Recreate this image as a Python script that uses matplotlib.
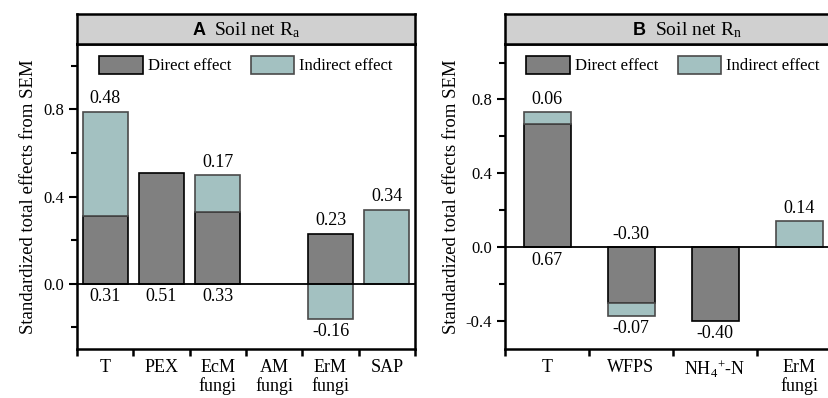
import matplotlib
matplotlib.use('Agg')
import matplotlib.pyplot as plt
from matplotlib.patches import Patch
from matplotlib.ticker import MultipleLocator, FixedLocator, NullFormatter

plt.rcParams['font.family'] = ['Liberation Serif', 'DejaVu Serif']
plt.rcParams['mathtext.fontset'] = 'custom'
plt.rcParams['mathtext.rm'] = 'Liberation Serif'
plt.rcParams['mathtext.it'] = 'Liberation Serif:italic'

# Panel A: soil net Ra
cats_a = ['T', 'PEX', 'EcM\nfungi', 'AM\nfungi', 'ErM\nfungi', 'SAP']
direct_a = [0.31, 0.51, 0.33, 0.0, 0.23, 0.0]
indirect_a = [0.48, 0.0, 0.17, 0.0, -0.16, 0.34]
# where the direct-effect number sits: at the zero line or at the bar end
direct_lab_a = ['base', 'base', 'base', None, 'end', None]

# Panel B: soil net Rn
cats_b = ['T', 'WFPS', r'NH$_4$$^{+}$-N', 'ErM\nfungi']
direct_b = [0.67, -0.30, -0.40, 0.0]
indirect_b = [0.06, -0.07, 0.0, 0.14]
direct_lab_b = ['base', 'base', 'end', None]

DIRECT_C = '#808080'
INDIRECT_C = '#a3c1c1'
HEADER_C = '#d0d0d0'


def label(ax, x, y, v, above, fs=13):
    off = 3 if above else -3
    ax.annotate('%.2f' % v, (x, y), xytext=(0, off), textcoords='offset points',
                ha='center', va='bottom' if above else 'top', fontsize=fs)


def panel(ax, hax, cats, direct, indirect, direct_lab, width, title, ylim, yticks, tcx):
    n = len(cats)
    xs = [i + 0.5 for i in range(n)]
    for x, d, ind, dl in zip(xs, direct, indirect, direct_lab):
        if d != 0:
            ax.bar(x, d, width, color=DIRECT_C, edgecolor='black', lw=1.2, zorder=2)
        base = d if (ind * d > 0) else 0
        if ind != 0:
            ax.bar(x, ind, width, bottom=base, color=INDIRECT_C,
                   edgecolor='#4a4a4a', lw=1.2, zorder=2)
            end = base + ind
            label(ax, x, end, ind, end > 0)
        if d != 0 and dl == 'base':
            label(ax, x, 0, d, d < 0)
        elif d != 0 and dl == 'end':
            label(ax, x, d, d, d > 0)
    ax.axhline(0, color='black', lw=1.3, zorder=3)
    ax.set_xlim(0, n)
    ax.set_ylim(*ylim)
    ax.xaxis.set_major_locator(FixedLocator(range(n + 1)))
    ax.xaxis.set_major_formatter(NullFormatter())
    ax.xaxis.set_minor_locator(FixedLocator(xs))
    ax.set_xticklabels(cats, minor=True, fontsize=13, linespacing=1.1)
    ax.tick_params(axis='x', which='major', direction='out', length=5, width=1.8)
    ax.tick_params(axis='x', which='minor', length=0, pad=7)
    ax.yaxis.set_minor_locator(MultipleLocator(0.2))
    ax.set_yticks(yticks)
    ax.set_yticklabels(['%.1f' % t for t in yticks])
    ax.tick_params(axis='y', which='major', direction='out', length=6, width=1.5, labelsize=12)
    ax.tick_params(axis='y', which='minor', direction='out', length=4, width=1.5)
    for s in ax.spines.values():
        s.set_linewidth(1.8)
    ax.set_ylabel('Standardized total effects from SEM', fontsize=13.5, labelpad=4)
    handles = [Patch(facecolor=DIRECT_C, edgecolor='black', lw=1.2, label='Direct effect'),
               Patch(facecolor=INDIRECT_C, edgecolor='#4a4a4a', lw=1.2, label='Indirect effect')]
    ax.legend(handles=handles, loc='upper center', ncol=2, frameon=False, fontsize=12,
              handlelength=2.6, handleheight=1.3, handletextpad=0.3, columnspacing=1.2,
              borderaxespad=0.3)

    # gray title strip above the plotting area
    hax.set_xlim(0, 1)
    hax.set_ylim(0, 1)
    hax.set_xticks([])
    hax.set_yticks([])
    hax.set_facecolor(HEADER_C)
    for s in hax.spines.values():
        s.set_linewidth(1.8)
    letter, rest = title
    hax.annotate(letter, (tcx, 0.45), xytext=(-29, 0), textcoords='offset points',
                 xycoords='axes fraction', ha='right', va='center', fontsize=13,
                 fontweight='bold', family='Liberation Sans')
    hax.annotate(rest, (tcx, 0.45), xytext=(-23, 0), textcoords='offset points',
                 xycoords='axes fraction', ha='left', va='center', fontsize=14)


fig = plt.figure(figsize=(8.29, 3.98), dpi=100)
ax_a = fig.add_axes([0.0929, 0.1231, 0.4077, 0.7663])
hd_a = fig.add_axes([0.0929, 0.8894, 0.4077, 0.0754])
ax_b = fig.add_axes([0.6092, 0.1231, 0.4053, 0.7663])
hd_b = fig.add_axes([0.6092, 0.8894, 0.4053, 0.0754])

panel(ax_a, hd_a, cats_a, direct_a, indirect_a, direct_lab_a, 0.8,
      ('A', r'Soil net R$_{\rm a}$'), (-0.3, 1.1), [0.0, 0.4, 0.8], 0.5)
panel(ax_b, hd_b, cats_b, direct_b, indirect_b, direct_lab_b, 0.56,
      ('B', r'Soil net R$_{\rm n}$'), (-0.55, 1.1), [-0.4, 0.0, 0.4, 0.8], 0.54)

fig.savefig('out.png', dpi=100)
